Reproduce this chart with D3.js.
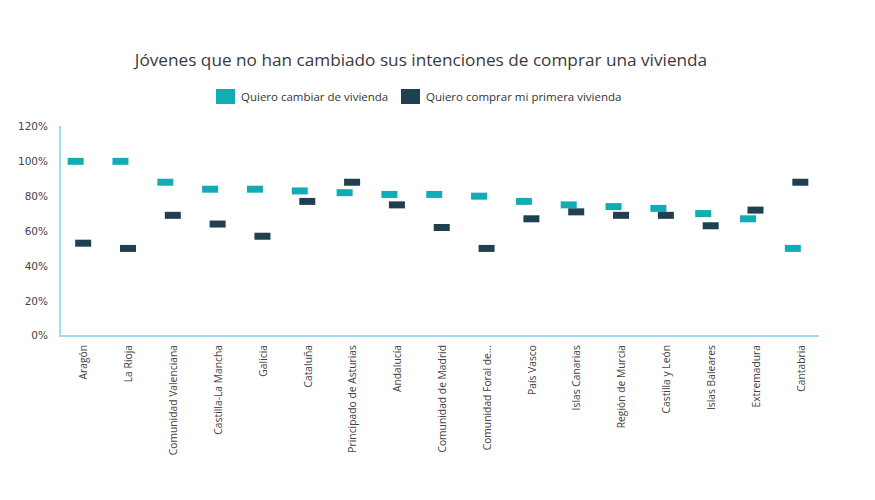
<!DOCTYPE html>
<html><head><meta charset="utf-8">
<script src="https://cdn.jsdelivr.net/npm/d3@7"></script>
<style>body{margin:0;background:#fff;} svg{display:block;}</style>
</head><body>
<svg id="chart" width="875" height="500"></svg>
<script>
const categories = ["Aragón","La Rioja","Comunidad Valenciana","Castilla-La Mancha","Galicia","Cataluña","Principado de Asturias","Andalucía","Comunidad de Madrid","Comunidad Foral de...","País Vasco","Islas Canarias","Región de Murcia","Castilla y León","Islas Baleares","Extremadura","Cantabria"];
const cambiar = [100,100,88,84,84,83,82,81,81,80,77,75,74,73,70,67,50];
const primera = [53,50,69,64,57,77,88,75,62,50,67,71,69,69,63,72,88];
const yTicks = [0,20,40,60,80,100,120];
const seriesNames = ["Quiero cambiar de vivienda","Quiero comprar mi primera vivienda"];
const colors = ["#12acb5","#203f50"];

const svg = d3.select("#chart");
const font = "'Open Sans', sans-serif";
const x = d3.scaleBand().domain(categories).range([57, 819]);
const y = d3.scaleLinear().domain([0,120]).range([335.5,126.5]);

svg.append("text").attr("x",421).attr("y",66).attr("text-anchor","middle")
  .attr("font-family",font).attr("font-size",17.2).attr("fill","#3a3a3a")
  .text("Jóvenes que no han cambiado sus intenciones de comprar una vivienda");

// legend
const leg = [{x:216, tx:241},{x:401, tx:426}];
leg.forEach((l,i)=>{
  svg.append("rect").attr("x",l.x).attr("y",89).attr("width",19).attr("height",15).attr("fill",colors[i]);
  svg.append("text").attr("x",l.tx).attr("y",101).attr("font-family",font).attr("font-size",11.5)
    .attr("fill","#333").text(seriesNames[i]);
});

// y axis
const yAxis = d3.axisLeft(y).tickValues(yTicks).tickFormat(d=>d+"%").tickSize(0).tickPadding(12);
const gy = svg.append("g").attr("transform","translate(60,0)").call(yAxis);
gy.select(".domain").remove();
gy.selectAll("text").attr("font-family","'DejaVu Sans', sans-serif").attr("font-size",10.5).attr("fill","#444");
svg.append("line").attr("x1",60).attr("x2",60).attr("y1",126).attr("y2",336).attr("stroke","#a5daf0").attr("stroke-width",2);

// x axis
const xAxis = d3.axisBottom(x).tickSize(0).tickPadding(0);
const gx = svg.append("g").attr("transform","translate(0,336)").call(xAxis);
gx.select(".domain").remove();
svg.append("line").attr("x1",59).attr("x2",819).attr("y1",336).attr("y2",336).attr("stroke","#a5daf0").attr("stroke-width",2);
gx.selectAll("text").attr("font-family",font).attr("font-size",10.3).attr("fill","#444")
  .attr("text-anchor","end").attr("dy",null)
  .attr("transform","translate(4,9) rotate(-90)").attr("dominant-baseline","central").attr("y",0).attr("x",0);

// markers
const mw=16, mh=7;
const data = categories.map((c,i)=>({c, a:cambiar[i], b:primera[i]}));
svg.append("g").selectAll("rect").data(data).join("rect")
  .attr("x",d=>x(d.c)+x.bandwidth()/2-3.75-mw/2).attr("y",d=>y(d.a)-mh/2)
  .attr("width",mw).attr("height",mh).attr("fill",colors[0]);
svg.append("g").selectAll("rect").data(data).join("rect")
  .attr("x",d=>x(d.c)+x.bandwidth()/2+3.75-mw/2).attr("y",d=>y(d.b)-mh/2)
  .attr("width",mw).attr("height",mh).attr("fill",colors[1]);
</script>
</body></html>
